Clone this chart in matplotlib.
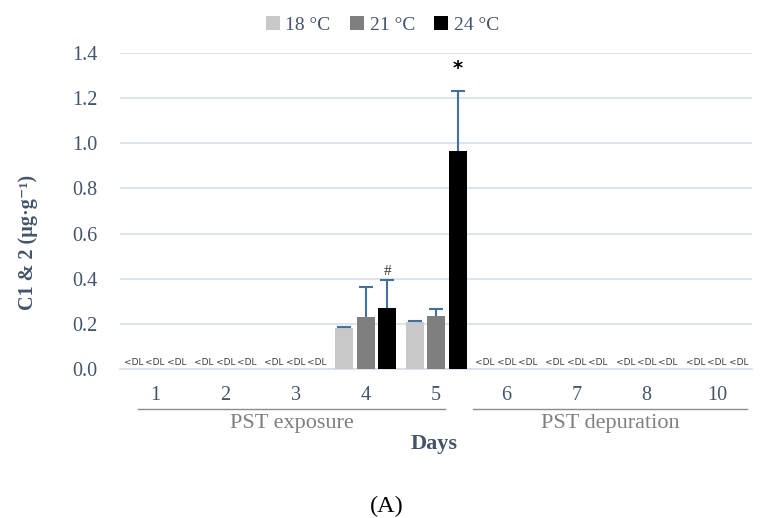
import numpy as np
import matplotlib.pyplot as plt
from matplotlib.patches import Patch
import matplotlib.transforms as mtransforms

# data (NaN = below detection limit, "<DL")
days = ['1', '2', '3', '4', '5', '6', '7', '8', '10']
temps = ['18 °C', '21 °C', '24 °C']
c18 = [np.nan, np.nan, np.nan, 0.18, 0.21, np.nan, np.nan, np.nan, np.nan]
c21 = [np.nan, np.nan, np.nan, 0.23, 0.235, np.nan, np.nan, np.nan, np.nan]
c24 = [np.nan, np.nan, np.nan, 0.27, 0.965, np.nan, np.nan, np.nan, np.nan]
e18 = [0, 0, 0, 0.004, 0.004, 0, 0, 0, 0]
e21 = [0, 0, 0, 0.135, 0.033, 0, 0, 0, 0]
e24 = [0, 0, 0, 0.125, 0.265, 0, 0, 0, 0]
marks = {(3, 2): '#', (4, 2): '*'}

colors = ['#c8c8c8', '#7f7f7f', '#000000']
txt_col = '#44546a'
serif = ['Liberation Serif', 'DejaVu Serif']

fig = plt.figure(figsize=(7.62, 5.18), dpi=100)
ax = fig.add_axes([0.1575, 0.2876, 0.8295, 0.61])

x = np.arange(len(days))
step = 0.306
width = 0.256
series = [(c18, e18), (c21, e21), (c24, e24)]

for k, (vals, errs) in enumerate(series):
    pos = x + (k - 1) * step
    v = np.array(vals, dtype=float)
    ok = ~np.isnan(v)
    ax.bar(pos[ok], v[ok], width, color=colors[k], zorder=3)
    eb = ax.errorbar(pos[ok], v[ok], yerr=[np.zeros(ok.sum()), np.array(errs)[ok]],
                     fmt='none', ecolor='#41719c', elinewidth=1.5, capsize=5,
                     capthick=1.5, zorder=4)
    eb[1][0].set_visible(False)  # no cap at the bar top
    for p in pos[~ok]:
        ax.text(p, 0.008, '<DL', ha='center', va='bottom', fontsize=6.5,
                color='#3a3a3a', zorder=5)

for (i, k), s in marks.items():
    top = series[k][0][i] + series[k][1][i]
    if s == '*':
        ax.text(x[i] + (k - 1) * step, top + 0.06, s, ha='center', va='bottom',
                fontsize=14, fontweight='bold')
    else:
        ax.text(x[i] + (k - 1) * step, top + 0.01, s, ha='center', va='bottom',
                fontsize=11, family=serif, color='#333333')

ax.set_ylim(0, 1.4)
ax.set_xlim(-0.5, len(days) - 0.5)
yt = np.arange(0, 1.41, 0.2)
ax.set_yticks(yt)
ax.set_yticklabels([f'{t:.1f}' for t in yt], family=serif, fontsize=14.5,
                   color=txt_col)
ax.set_xticks(x)
ax.set_xticklabels(days, family=serif, fontsize=14.5, color=txt_col)
ax.tick_params(axis='y', length=0, pad=16)
ax.tick_params(axis='x', length=0, pad=12)
ax.grid(axis='y', color='#d6dfec', linewidth=1.2, zorder=0)
for sp in ['top', 'right', 'left']:
    ax.spines[sp].set_visible(False)
ax.spines['bottom'].set_color('#d6dfec')
ax.spines['bottom'].set_linewidth(1.2)

ax.set_ylabel('C1 & 2 (µg·g⁻¹)', family=serif, fontsize=14.5,
              fontweight='bold', color=txt_col)
ax.yaxis.set_label_coords(-0.13, 0.40)

# group brackets below the axis
trans = mtransforms.blended_transform_factory(ax.transData, ax.transAxes)
groups = [('PST exposure', -0.24, 4.13), ('PST depuration', 4.52, 8.43)]
for name, a, b in groups:
    ax.plot([a, b], [-0.127, -0.127], transform=trans, color='#8c8c8c',
            linewidth=1, clip_on=False)
    ax.text((a + b) / 2, -0.142, name, transform=trans, ha='center', va='top',
            family=serif, fontsize=16, color='#7f7f7f')

ax.text(0.497, -0.207, 'Days', transform=ax.transAxes, ha='center', va='top',
        family=serif, fontsize=16, fontweight='bold', color=txt_col)

fig.text(0.507, 0.022, '(A)', ha='center', va='center', family=serif,
         fontsize=17.5)

handles = [Patch(facecolor=c) for c in colors]
fig.legend(handles, temps, loc='center', bbox_to_anchor=(0.502, 0.952), ncol=3,
           frameon=False, handlelength=0.7, handleheight=0.7,
           handletextpad=0.3, columnspacing=1.0, labelcolor=txt_col,
           prop={'family': serif, 'size': 14})

fig.savefig('out.png', dpi=100)
